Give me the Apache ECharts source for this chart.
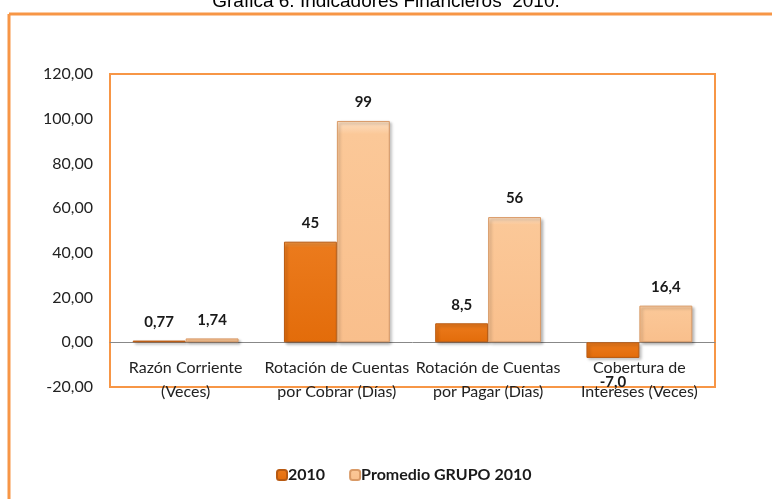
<!DOCTYPE html>
<html>
<head>
<meta charset="utf-8">
<script src="https://cdn.jsdelivr.net/npm/echarts@6/dist/echarts.min.js"></script>
<style>
    html, body { margin: 0; padding: 0; background: #fff; }
    #chart { width: 772px; height: 499px; }
</style>
</head>
<body>
<div id="chart"></div>
<script>
var categories = ['Razón Corriente\n(Veces)', 'Rotación de Cuentas\npor Cobrar (Días)', 'Rotación de Cuentas\npor Pagar (Días)', 'Cobertura de\nIntereses (Veces)'];
var data2010 = [0.77, 45, 8.5, -7.0];
var labels2010 = ['0,77', '45', '8,5', '-7,0'];
var dataPromedio = [1.74, 99, 56, 16.4];
var labelsPromedio = ['1,74', '99', '56', '16,4'];

var chart = echarts.init(document.getElementById('chart'));

function fmtTick(v) {
    return v.toFixed(2).replace('.', ',');
}

// grid: top 74, bottom edge 387, zero line sits at 74 + 313 * 120 / 140
var gridTop = 74, gridBottom = 112;
var plotH = 499 - gridTop - gridBottom;
var zeroOffset = -(plotH * 20 / 140);

var option = {
    animation: false,
    textStyle: { fontFamily: 'Lato, "Open Sans", sans-serif' },
    title: {
        text: 'Grafica 6. Indicadores Financieros  2010.',
        left: 'center',
        top: -13,
        textStyle: { fontFamily: '"Liberation Sans", Arial', fontWeight: 'normal', fontSize: 19, color: '#000' }
    },
    graphic: [
        { type: 'line', shape: { x1: 9, y1: 14, x2: 772, y2: 14 }, style: { stroke: '#F79646', lineWidth: 3 } },
        { type: 'line', shape: { x1: 9, y1: 14, x2: 9, y2: 499 }, style: { stroke: '#F79646', lineWidth: 3 } }
    ],
    legend: {
        bottom: 11,
        left: 271,
        itemWidth: 10,
        itemHeight: 10,
        itemGap: 24,
        textStyle: { fontSize: 16, fontWeight: 'bold', color: '#1a1a1a', padding: [0, 0, 0, -4] },
        data: ['2010', 'Promedio GRUPO 2010']
    },
    grid: {
        left: 110,
        right: 57,
        top: gridTop,
        bottom: gridBottom,
        show: true,
        borderColor: '#F79646',
        borderWidth: 2
    },
    xAxis: {
        type: 'category',
        data: categories,
        offset: zeroOffset,
        axisLine: { onZero: false, lineStyle: { color: '#888', width: 1 } },
        axisTick: { show: false },
        axisLabel: { fontSize: 16, color: '#222', lineHeight: 24, margin: 14, interval: 0 }
    },
    yAxis: {
        type: 'value',
        min: -20,
        max: 120,
        interval: 20,
        axisLine: { show: false },
        axisTick: { show: false },
        splitLine: { show: false },
        axisLabel: { fontSize: 16, color: '#222', margin: 17, formatter: fmtTick }
    },
    series: [
        {
            name: '2010',
            type: 'bar',
            data: data2010.map(function (v) {
                if (v < 0) {
                    return { value: v, label: { position: 'bottom', distance: 17 } };
                }
                return v;
            }),
            barGap: '0%',
            barCategoryGap: '30%',
            itemStyle: {
                color: new echarts.graphic.LinearGradient(0, 0, 0, 1, [
                    { offset: 0, color: '#F39A45' },
                    { offset: 0.06, color: '#EB7A1C' },
                    { offset: 1, color: '#E36C0A' }
                ]),
                borderColor: '#B85A12',
                borderWidth: 1,
                shadowColor: 'rgba(0,0,0,0.3)',
                shadowBlur: 3,
                shadowOffsetX: 2,
                shadowOffsetY: 2
            },
            label: {
                show: true,
                position: 'top',
                distance: 11,
                fontSize: 15,
                fontWeight: 'bold',
                color: '#1a1a1a',
                formatter: function (p) { return labels2010[p.dataIndex]; }
            }
        },
        {
            name: 'Promedio GRUPO 2010',
            type: 'bar',
            data: dataPromedio,
            itemStyle: {
                color: new echarts.graphic.LinearGradient(0, 0, 0, 1, [
                    { offset: 0, color: '#FDE0C4' },
                    { offset: 0.06, color: '#FBC898' },
                    { offset: 1, color: '#F9BF8C' }
                ]),
                borderColor: '#D99A66',
                borderWidth: 1,
                shadowColor: 'rgba(0,0,0,0.3)',
                shadowBlur: 3,
                shadowOffsetX: 2,
                shadowOffsetY: 2
            },
            label: {
                show: true,
                position: 'top',
                distance: 11,
                fontSize: 15,
                fontWeight: 'bold',
                color: '#1a1a1a',
                formatter: function (p) { return labelsPromedio[p.dataIndex]; }
            }
        }
    ]
};

chart.setOption(option);
</script>
</body>
</html>
